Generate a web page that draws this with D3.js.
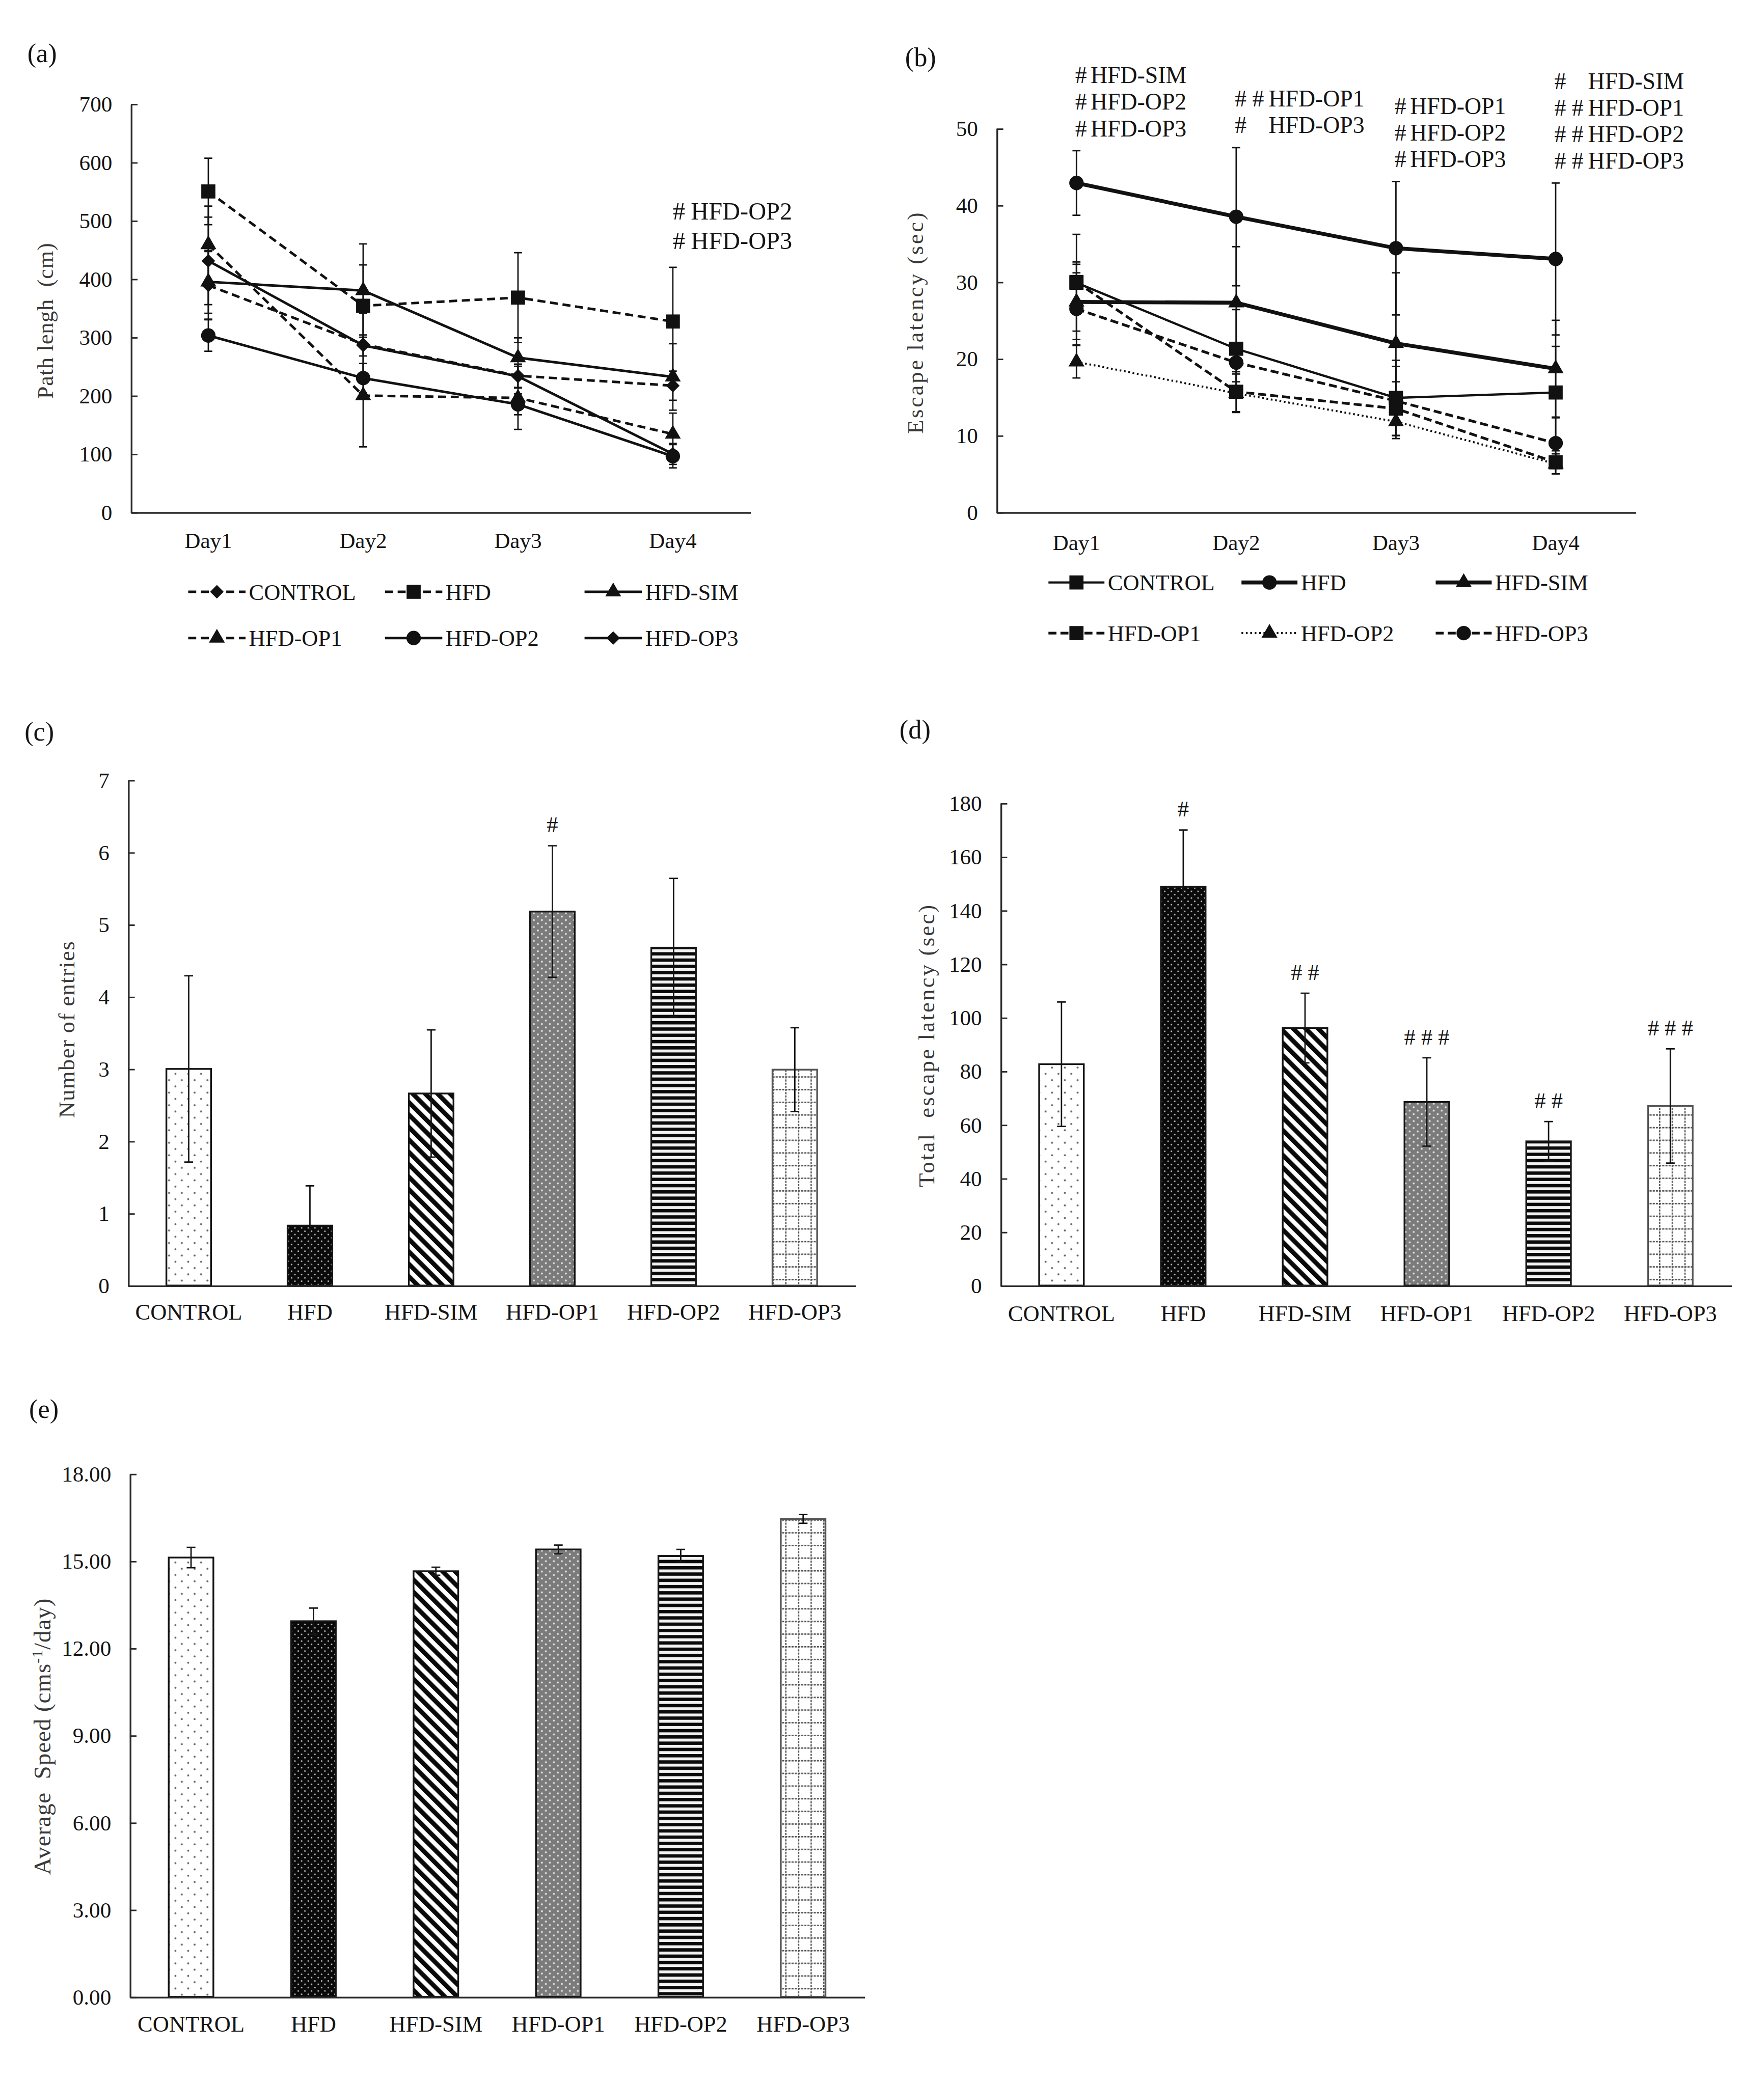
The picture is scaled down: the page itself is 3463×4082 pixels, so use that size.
<!DOCTYPE html>
<html>
<head>
<meta charset="utf-8">
<title>Water maze results (a)-(e)</title>
<script src="https://cdn.jsdelivr.net/npm/d3@7"></script>
<style>
  html, body { margin: 0; padding: 0; background: #fff; }
  svg text { font-family: "Liberation Serif", "Times New Roman", serif; fill: #141414; }
</style>
</head>
<body>
<svg id="fig" width="3463" height="4082"></svg>
<script>
// ---------- data ----------
const days = ["Day1", "Day2", "Day3", "Day4"];
const groups = ["CONTROL", "HFD", "HFD-SIM", "HFD-OP1", "HFD-OP2", "HFD-OP3"];

// (a) path length (cm): one row per group, one column per day
const pathMean = [
  [389, 288, 234, 217],
  [550, 354, 368, 327],
  [395, 380, 265, 232],
  [459, 200, 196, 134],
  [303, 230, 185, 96],
  [431, 286, 233, 100]
];
const pathSd = [
  [58, 53, 20, 25],
  [57, 70, 77, 93],
  [54, 80, 34, 57],
  [66, 88, 54, 36],
  [27, 25, 18, 20],
  [75, 18, 20, 18]
];
const pathTicks = [0, 100, 200, 300, 400, 500, 600, 700];
const pathNotes = [["#", "HFD-OP2"], ["#", "HFD-OP3"]];   // above Day4

// (b) escape latency (sec)
const latMean = [
  [29.9, 21.3, 14.9, 15.6],
  [42.9, 38.5, 34.4, 33.0],
  [27.4, 27.3, 22.0, 18.7],
  [30.0, 15.7, 13.5, 6.5],
  [19.6, 15.5, 11.8, 6.3],
  [26.5, 19.5, 14.5, 9.0]
];
const latSd = [
  [6.3, 5.1, 4.9, 6.0],
  [4.2, 9.0, 8.7, 9.9],
  [4.9, 7.3, 9.2, 6.3],
  [2.6, 2.6, 3.5, 1.5],
  [2.1, 2.5, 2.2, 1.3],
  [4.7, 2.5, 4.5, 3.3]
];
const latTicks = [0, 10, 20, 30, 40, 50];
const latNotes = [
  [["#", "HFD-SIM"], ["#", "HFD-OP2"], ["#", "HFD-OP3"]],
  [["# #", "HFD-OP1"], ["#", "HFD-OP3"]],
  [["#", "HFD-OP1"], ["#", "HFD-OP2"], ["#", "HFD-OP3"]],
  [["#", "HFD-SIM"], ["# #", "HFD-OP1"], ["# #", "HFD-OP2"], ["# #", "HFD-OP3"]]
];

// (c) number of entries
const entriesMean = [3.00, 0.83, 2.66, 5.18, 4.68, 2.99];
const entriesSd = [1.29, 0.55, 0.88, 0.91, 0.96, 0.58];
const entriesTicks = [0, 1, 2, 3, 4, 5, 6, 7];
const entriesMarks = ["", "", "", "#", "", ""];

// (d) total escape latency (sec)
const totalMean = [82.6, 148.8, 96.1, 68.5, 53.8, 67.0];
const totalSd = [23.2, 21.2, 13.0, 16.5, 7.4, 21.3];
const totalTicks = [0, 20, 40, 60, 80, 100, 120, 140, 160, 180];
const totalMarks = ["", "#", "# #", "# # #", "# #", "# # #"];

// (e) average speed
const speedMean = [15.12, 12.93, 14.65, 15.40, 15.18, 16.45];
const speedSd = [0.35, 0.45, 0.14, 0.15, 0.22, 0.15];
const speedTicks = [0, 3, 6, 9, 12, 15, 18];

// ---------- styles ----------
const styleA = [
  {dash: "6,3.5", w: 1.9, sym: "diamond"},
  {dash: "6,3.5", w: 1.9, sym: "square"},
  {dash: null,    w: 1.9, sym: "triangle"},
  {dash: "6,3.5", w: 1.9, sym: "triangle"},
  {dash: null,    w: 1.9, sym: "circle"},
  {dash: null,    w: 1.9, sym: "diamond"}
];
const styleB = [
  {dash: null,    w: 1.7, sym: "square"},
  {dash: null,    w: 2.9, sym: "circle"},
  {dash: null,    w: 2.9, sym: "triangle"},
  {dash: "6,3",   w: 2.0, sym: "square"},
  {dash: "1.3,2", w: 1.5, sym: "triangle"},
  {dash: "6,3",   w: 2.0, sym: "circle"}
];

// ---------- setup ----------
const K = 2.617;
const svg = d3.select("#fig").attr("viewBox", `0 0 ${3463 / K} ${4082 / K}`);
svg.append("rect").attr("width", 3463 / K).attr("height", 4082 / K).attr("fill", "#fff");
const defs = svg.append("defs");

// bar fill patterns, one per group
function pattern(id, w, h, transform) {
  const p = defs.append("pattern").attr("id", id)
    .attr("patternUnits", "userSpaceOnUse").attr("width", w).attr("height", h);
  if (transform) p.attr("patternTransform", transform);
  return p;
}
let p = pattern("pat0", 9.6, 9.4);
p.append("rect").attr("width", 9.6).attr("height", 9.4).attr("fill", "#fff");
p.append("circle").attr("cx", 2).attr("cy", 2).attr("r", 0.75).attr("fill", "#666");
p.append("circle").attr("cx", 6.8).attr("cy", 6.7).attr("r", 0.75).attr("fill", "#666");

p = pattern("pat1", 5, 5);
p.append("rect").attr("width", 5).attr("height", 5).attr("fill", "#0a0a0a");
p.append("circle").attr("cx", 1.25).attr("cy", 1.25).attr("r", 0.6).attr("fill", "#bbb");
p.append("circle").attr("cx", 3.75).attr("cy", 3.75).attr("r", 0.6).attr("fill", "#bbb");

p = pattern("pat2", 6.6, 6.6, "rotate(-45)");
p.append("rect").attr("width", 6.6).attr("height", 6.6).attr("fill", "#fff");
p.append("rect").attr("width", 3.4).attr("height", 6.6).attr("fill", "#0a0a0a");

p = pattern("pat3", 6, 5.2);
p.append("rect").attr("width", 6).attr("height", 5.2).attr("fill", "#7b7b7b");
p.append("circle").attr("cx", 1.5).attr("cy", 1.3).attr("r", 0.7).attr("fill", "#e8e8e8");
p.append("circle").attr("cx", 4.5).attr("cy", 3.9).attr("r", 0.7).attr("fill", "#e8e8e8");

p = pattern("pat4", 10, 4.7);
p.append("rect").attr("width", 10).attr("height", 4.7).attr("fill", "#f2f2f2");
p.append("rect").attr("width", 10).attr("height", 2.5).attr("fill", "#0a0a0a");

p = pattern("pat5", 9.5, 9.5);
p.append("rect").attr("width", 9.5).attr("height", 9.5).attr("fill", "#fff");
p.append("path").attr("d", "M0,0.5H9.5M0.5,0V9.5").attr("stroke", "#555")
  .attr("stroke-width", 1).attr("stroke-dasharray", "1.6,0.8").attr("fill", "none");

const diamond = {
  draw(ctx, size) {
    const r = Math.sqrt(size / 2);
    ctx.moveTo(0, -r); ctx.lineTo(r, 0); ctx.lineTo(0, r); ctx.lineTo(-r, 0); ctx.closePath();
  }
};
const symbols = {
  square: [d3.symbolSquare, 112],
  circle: [d3.symbolCircle, 92],
  triangle: [d3.symbolTriangle, 62],
  diamond: [diamond, 52]
};
function symbolPath(name) {
  const s = symbols[name];
  return d3.symbol().type(s[0]).size(s[1])();
}

// ---------- shared helpers ----------
function panelLabel(txt, x, y) {
  svg.append("text").attr("x", x).attr("y", y).attr("dy", "0.35em")
    .attr("text-anchor", "middle").attr("font-size", 20).text(txt);
}

function yTitle(x, y, len, build) {
  const t = svg.append("text")
    .attr("transform", `translate(${x},${y}) rotate(-90)`)
    .attr("text-anchor", "middle").attr("dy", "0.35em")
    .attr("font-size", 17).style("white-space", "pre").style("fill", "#3a3a3a");
  if (typeof build === "string") {
    t.text(build).attr("textLength", len).attr("lengthAdjust", "spacing");
  } else {
    build(t);
  }
}

function yAxis(g, y, x0, ticks, fmt) {
  const ax = g.append("g").attr("transform", `translate(${x0},0)`)
    .call(d3.axisLeft(y).tickValues(ticks).tickFormat(fmt)
      .tickSizeInner(-5).tickSizeOuter(0).tickPadding(14));
  ax.attr("font-size", 16.5).attr("font-family", null);
  ax.select(".domain").attr("stroke", "#2a2a2a").attr("stroke-width", 1.3);
  ax.selectAll(".tick line").attr("stroke", "#2a2a2a").attr("stroke-width", 1.1);
  return ax;
}

function xAxis(g, x, yBase, off, size) {
  const ax = g.append("g").attr("transform", `translate(0,${yBase})`)
    .call(d3.axisBottom(x).tickSize(0).tickSizeOuter(0));
  ax.attr("font-size", size).attr("font-family", null);
  ax.select(".domain").attr("stroke", "#2a2a2a").attr("stroke-width", 1.3);
  ax.selectAll(".tick text").attr("y", off).attr("dy", "0.35em");
  return ax;
}

function errorBar(g, cx, yLo, yHi, half) {
  g.append("path")
    .attr("d", `M${cx},${yLo}V${yHi}M${cx - half},${yHi}H${cx + half}M${cx - half},${yLo}H${cx + half}`)
    .attr("stroke", "#141414").attr("stroke-width", 1.05).attr("fill", "none");
}

// ---------- line panels ----------
function linePanel(L, means, sds, styles, ticks) {
  const g = svg.append("g");
  const x = d3.scaleBand().domain(days).range([L.x0, L.x1]);
  const y = d3.scaleLinear().domain([0, ticks[ticks.length - 1]]).range([L.bottom, L.top]);
  const cx = d => x(d) + x.bandwidth() / 2;

  yAxis(g, y, L.x0, ticks, d3.format("d"));
  xAxis(g, x, L.bottom, L.dayOff, 16.5);

  means.forEach((row, i) => row.forEach((m, j) =>
    errorBar(g, cx(days[j]), y(m - sds[i][j]), y(m + sds[i][j]), 3))
  );

  const line = d3.line().x((d, j) => cx(days[j])).y(d => y(d));
  means.forEach((row, i) => {
    g.append("path").attr("d", line(row)).attr("fill", "none")
      .attr("stroke", "#111").attr("stroke-width", styles[i].w)
      .attr("stroke-dasharray", styles[i].dash);
  });
  means.forEach((row, i) => {
    g.selectAll(null).data(row).join("path")
      .attr("transform", (d, j) => `translate(${cx(days[j])},${y(d)})`)
      .attr("d", symbolPath(styles[i].sym)).attr("fill", "#111");
  });

  // legend: three columns, two rows
  groups.forEach((name, i) => {
    const lx = L.legCols[i % 3], ly = L.legRows[Math.floor(i / 3)];
    const st = styles[i];
    g.append("line").attr("x1", lx).attr("x2", lx + L.legLen).attr("y1", ly).attr("y2", ly)
      .attr("stroke", "#111").attr("stroke-width", st.w).attr("stroke-dasharray", st.dash);
    g.append("path").attr("transform", `translate(${lx + L.legLen / 2},${ly})`)
      .attr("d", symbolPath(st.sym)).attr("fill", "#111");
    g.append("text").attr("x", lx + L.legLen + 2.5).attr("y", ly).attr("dy", "0.35em")
      .attr("font-size", 17).text(name);
  });
  return {g, x, y, cx};
}

function notesAbove(P, means, sds, j, notes, opt) {
  const top = d3.max(means, (row, i) => row[j] + sds[i][j]);
  const base = P.y(top) - opt.gap;
  const wide = notes.some(n => n[0].length > 1);
  const x0 = P.cx(days[j]) + opt.dx;
  notes.forEach((n, k) => {
    const yy = base - (notes.length - 1 - k) * opt.step;
    P.g.append("text").attr("x", x0).attr("y", yy).attr("dy", "0.35em")
      .attr("font-size", opt.size).style("white-space", "pre").text(n[0]);
    P.g.append("text").attr("x", x0 + (wide ? opt.wideOff : opt.off)).attr("y", yy).attr("dy", "0.35em")
      .attr("font-size", opt.size).text(n[1]);
  });
}

// (a)
const A = linePanel({x0: 98.2, x1: 562.8, top: 78.0, bottom: 384.3, dayOff: 21,
  legCols: [141.2, 288.8, 438.5], legRows: [444, 478.7], legLen: 43},
  pathMean, pathSd, styleA, pathTicks);
notesAbove(A, pathMean, pathSd, 3, pathNotes, {gap: 20, step: 22.3, dx: 0, off: 13.5, wideOff: 25, size: 18.5});
panelLabel("(a)", 31.6, 39.5);
yTitle(33.7, 240.8, 117, "Path lengh  (cm)");

// (b)
const B = linePanel({x0: 747.6, x1: 1226.9, top: 96.4, bottom: 384.3, dayOff: 22.7,
  legCols: [786.5, 931.3, 1077], legRows: [437, 475], legLen: 42},
  latMean, latSd, styleB, latTicks);
latNotes.forEach((notes, j) =>
  notesAbove(B, latMean, latSd, j, notes, {gap: 17, step: 19.9, dx: -1, off: 11.6, wideOff: 25.3, size: 17.5}));
panelLabel("(b)", 690.6, 42.8);
yTitle(686.4, 242.5, 166, "Escape latency (sec)");

// ---------- bar panels ----------
function barPanel(L, means, sds, ticks, fmt, marks) {
  const g = svg.append("g");
  const x = d3.scaleBand().domain(groups).range([L.x0, L.x1]);
  const y = d3.scaleLinear().domain([0, ticks[ticks.length - 1]]).range([L.bottom, L.top]);
  const cx = d => x(d) + x.bandwidth() / 2;
  const bw = 33.5;

  g.selectAll(null).data(means).join("rect")
    .attr("x", (d, i) => cx(groups[i]) - bw / 2)
    .attr("y", d => y(d))
    .attr("width", bw)
    .attr("height", d => y(0) - y(d))
    .attr("fill", (d, i) => `url(#pat${i})`)
    .attr("stroke", (d, i) => i === 5 ? "#555" : "#141414")
    .attr("stroke-width", 1.3);

  means.forEach((m, i) => errorBar(g, cx(groups[i]), y(m - sds[i]), y(m + sds[i]), 3.3));

  if (marks) {
    g.selectAll(null).data(marks).join("text")
      .attr("x", (d, i) => cx(groups[i]))
      .attr("y", (d, i) => y(means[i] + sds[i]) - 16)
      .attr("dy", "0.35em").attr("text-anchor", "middle")
      .attr("font-size", 17).style("white-space", "pre")
      .text(d => d);
  }

  yAxis(g, y, L.x0, ticks, fmt);
  xAxis(g, x, L.bottom, L.catOff, 17);
}

// (c)
barPanel({x0: 96.1, x1: 641.7, top: 585.3, bottom: 964.5, catOff: 19.8},
  entriesMean, entriesSd, entriesTicks, d3.format("d"), entriesMarks);
panelLabel("(c)", 29.5, 548.7);
yTitle(49.7, 772.6, 132.5, "Number of entries");

// (d)
barPanel({x0: 750.6, x1: 1298.7, top: 602.6, bottom: 964.5, catOff: 20.7},
  totalMean, totalSd, totalTicks, d3.format("d"), totalMarks);
panelLabel("(d)", 686.4, 547.2);
yTitle(694.8, 784.8, 211.7, "Total  escape latency (sec)");

// (e)
barPanel({x0: 97.4, x1: 648.4, top: 1105.8, bottom: 1498.2, catOff: 20.2},
  speedMean, speedSd, speedTicks, d3.format(".2f"), null);
panelLabel("(e)", 32.9, 1057);
yTitle(31.6, 1302.8, 198.7, t => {
  t.attr("font-size", 18).attr("letter-spacing", 0.35);
  t.append("tspan").text("Average  Speed (cms");
  t.append("tspan").attr("dy", -6).attr("font-size", 11.5).text("-1");
  t.append("tspan").attr("dy", 6).text("/day)");
});
</script>
</body>
</html>
